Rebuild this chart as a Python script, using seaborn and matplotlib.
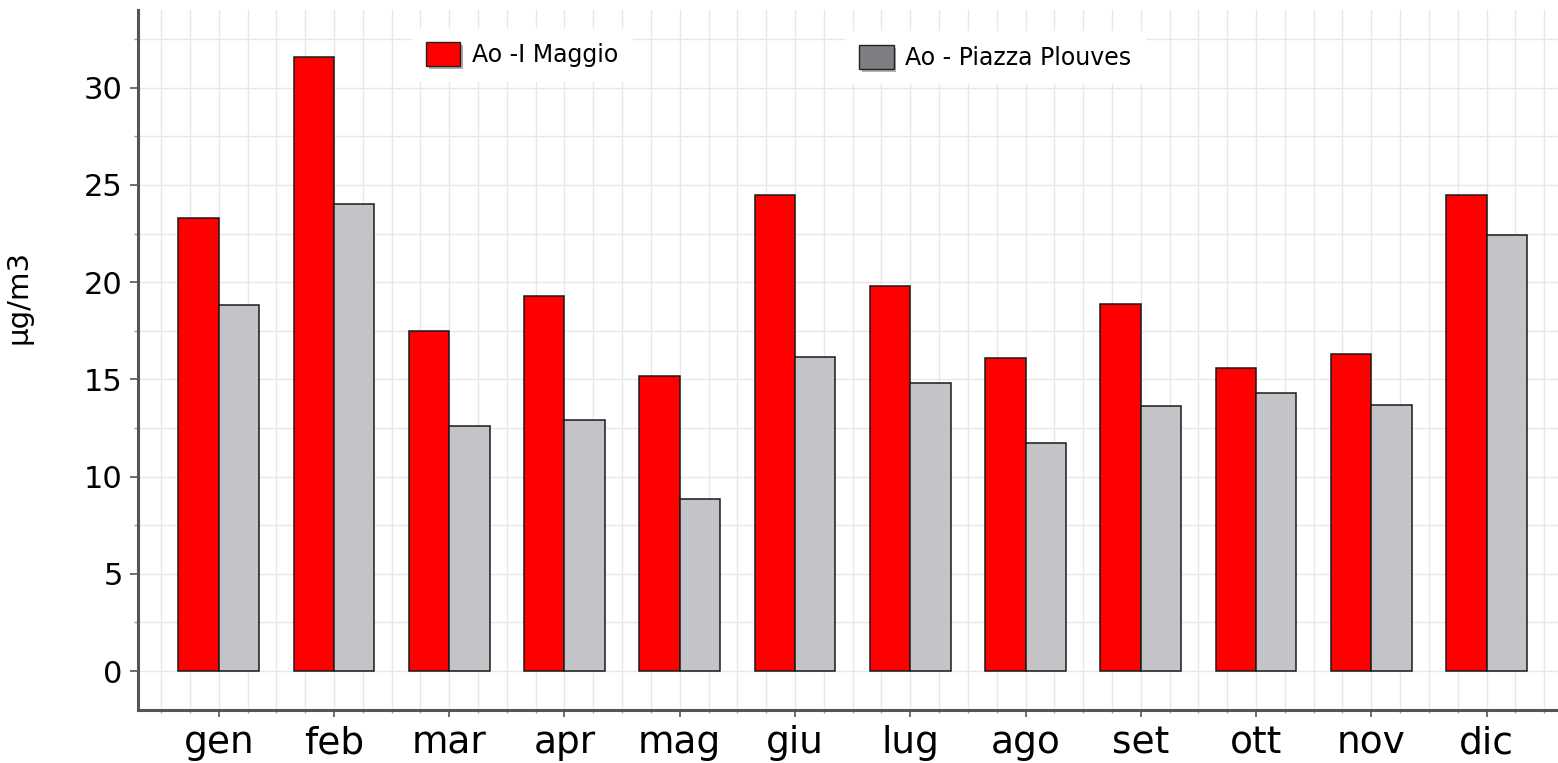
import pandas as pd
import matplotlib
matplotlib.use("Agg")
import matplotlib.pyplot as plt
import matplotlib.patheffects as pe
from matplotlib.patches import Patch
from matplotlib.ticker import MultipleLocator
import seaborn as sns

# Data
mesi = ['gen', 'feb', 'mar', 'apr', 'mag', 'giu', 'lug', 'ago', 'set', 'ott', 'nov', 'dic']
maggio = [23.3, 31.6, 17.5, 19.3, 15.2, 24.5, 19.8, 16.1, 18.9, 15.6, 16.3, 24.5]
plouves = [18.8, 24.0, 12.6, 12.9, 8.85, 16.15, 14.8, 11.75, 13.65, 14.3, 13.7, 22.4]
stazioni = ['Ao -I Maggio', 'Ao - Piazza Plouves']

df = pd.DataFrame({
    'mese': mesi * 2,
    'valore': maggio + plouves,
    'stazione': [stazioni[0]] * len(mesi) + [stazioni[1]] * len(mesi),
})

# Styling
sns.set_style("white")
plt.rcParams['font.family'] = ['DejaVu Sans']
plt.rcParams['text.color'] = 'black'
plt.rcParams['axes.labelcolor'] = 'black'
plt.rcParams['xtick.color'] = 'black'
plt.rcParams['ytick.color'] = 'black'

fig = plt.figure(figsize=(15.58, 7.63), dpi=100)
ax = fig.add_axes([0.0886, 0.0695, 0.9114, 0.9175])

bar_colors = {stazioni[0]: '#ff0000', stazioni[1]: '#c4c3c7'}
sns.barplot(data=df, x='mese', y='valore', hue='stazione', order=mesi,
            hue_order=stazioni, palette=bar_colors, width=0.7,
            edgecolor='#1a1a1a', linewidth=1.1, saturation=1,
            legend=False, ax=ax)

# Axes limits and grid
ax.set_xlim(-0.7, 11.62)
ax.set_ylim(-2, 34)
ax.yaxis.set_major_locator(MultipleLocator(5))
ax.yaxis.set_minor_locator(MultipleLocator(2.5))
ax.xaxis.set_minor_locator(MultipleLocator(0.25))
ax.set_axisbelow(True)
ax.grid(True, which='both', color='#e6e6eb', linewidth=1.0)

for side in ['top', 'right']:
    ax.spines[side].set_visible(False)
for side in ['left', 'bottom']:
    ax.spines[side].set_color('#555555')
    ax.spines[side].set_linewidth(2.2)

ax.tick_params(axis='y', which='major', length=6, width=1.2, color='#555555',
               labelsize=22, pad=5, left=True, labelcolor='black')
ax.tick_params(axis='y', which='minor', length=3, width=1, color='#999999', left=True)
ax.tick_params(axis='x', which='major', length=5, width=1.2, color='#555555',
               labelsize=27, pad=6, bottom=True, labelcolor='black')
ax.tick_params(axis='x', which='minor', length=2, width=1, color='#999999', bottom=True)

ax.set_xlabel('')
ax.set_ylabel('μg/m3', fontsize=21, color='black')
ax.yaxis.set_label_coords(-0.074, 0.59)

# Legend: two separate boxes, as in the original
legend_colors = ['#ff0000', '#7f7e82']
anchors = [(0.193, 0.974), (0.498, 0.97)]
for name, col, anc in zip(stazioni, legend_colors, anchors):
    h = Patch(facecolor=col, edgecolor='#222222', linewidth=1.0)
    leg = ax.legend(handles=[h], labels=[name], loc='upper left', bbox_to_anchor=anc,
                    frameon=True, fancybox=False, framealpha=1, facecolor='white',
                    edgecolor='none', fontsize=17, handlelength=1.45, handleheight=1.2,
                    handletextpad=0.5, borderpad=0.6, borderaxespad=0, labelcolor='black')
    for p in leg.get_patches():
        p.set_path_effects([pe.SimplePatchShadow(offset=(2, -2), alpha=0.35), pe.Normal()])
    ax.add_artist(leg)

fig.savefig('out.png', dpi=100)
